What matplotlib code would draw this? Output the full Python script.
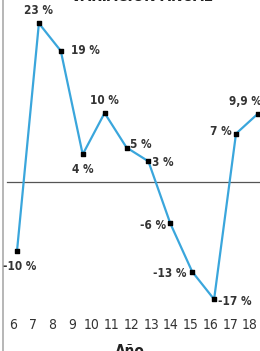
import numpy as np
import matplotlib.pyplot as plt

# annual variation, years 6..17 (tick row runs 6..18)
years = [6, 7, 8, 9, 10, 11, 12, 13, 14, 15, 16, 17]
values = [-10, 23, 19, 4, 10, 5, 3, -6, -13, -17, 7, 9.9]
labels = ['-10 %', '23 %', '19 %', '4 %', '10 %', '5 %', '3 %', '-6 %', '-13 %', '-17 %', '7 %', '9,9 %']
tick_years = list(range(6, 19))

# label offsets in pixels (dx, dy, ha)
offsets = [(3, -16, 'center'), (0, 13, 'center'), (10, 0, 'left'), (0, -15, 'center'),
           (0, 12, 'center'), (4, 3, 'left'), (4, -1, 'left'), (-4, -2, 'right'),
           (-6, -2, 'right'), (4, -2, 'left'), (-4, 2, 'right'), (-12, 12, 'center')]

plt.rcParams['font.family'] = ['DejaVu Sans']
plt.rcParams['font.stretch'] = 'condensed'

fig = plt.figure(figsize=(2.6, 3.51), dpi=100)
ax = fig.add_axes([0, 0, 1, 1])

x = np.arange(len(years))
ax.plot(x, values, color='#3aa6dc', lw=1.6, zorder=2)
ax.scatter(x, values, s=5, color='black', marker='s', zorder=3)

for xi, v, lab, (dx, dy, ha) in zip(x, values, labels, offsets):
    ax.annotate(lab, (xi, v), xytext=(dx, dy), textcoords='offset pixels',
                ha=ha, va='center', fontsize=8.5, color='#333333',
                fontstretch='condensed', fontweight='bold')

# pixel mapping: first point at 17px, step 21.9px; zero at 182px, 6.9px per %
ax.set_xlim(-17 / 21.9, (260 - 17) / 21.9)
ax.set_ylim((182 - 351) / 6.9, 182 / 6.9)
ax.axhline(0, xmin=7 / 260, color='#555555', lw=0.9, zorder=1)
ax.axvline((2.5 - 17) / 21.9, color='#aaaaaa', lw=1.2)

tick_pos = np.linspace(-0.18, 10.64, len(tick_years))
for tp, ty in zip(tick_pos, tick_years):
    ax.text(tp, (182 - 325) / 6.9, str(ty), ha='center', va='center',
            fontsize=10, color='#333333', fontstretch='condensed')

ax.axis('off')

fig.text(142 / 260, 1 - 4 / 351, 'VARIACIÓN ANUAL', ha='center', va='bottom',
         fontsize=11, fontweight='bold', color='#222222', fontstretch='condensed')
fig.text(130 / 260, 1 - 344 / 351, 'Año', ha='center', va='top',
         fontsize=11, fontweight='bold', color='#222222', fontstretch='condensed')

fig.savefig('out.png', dpi=100, facecolor='white')
